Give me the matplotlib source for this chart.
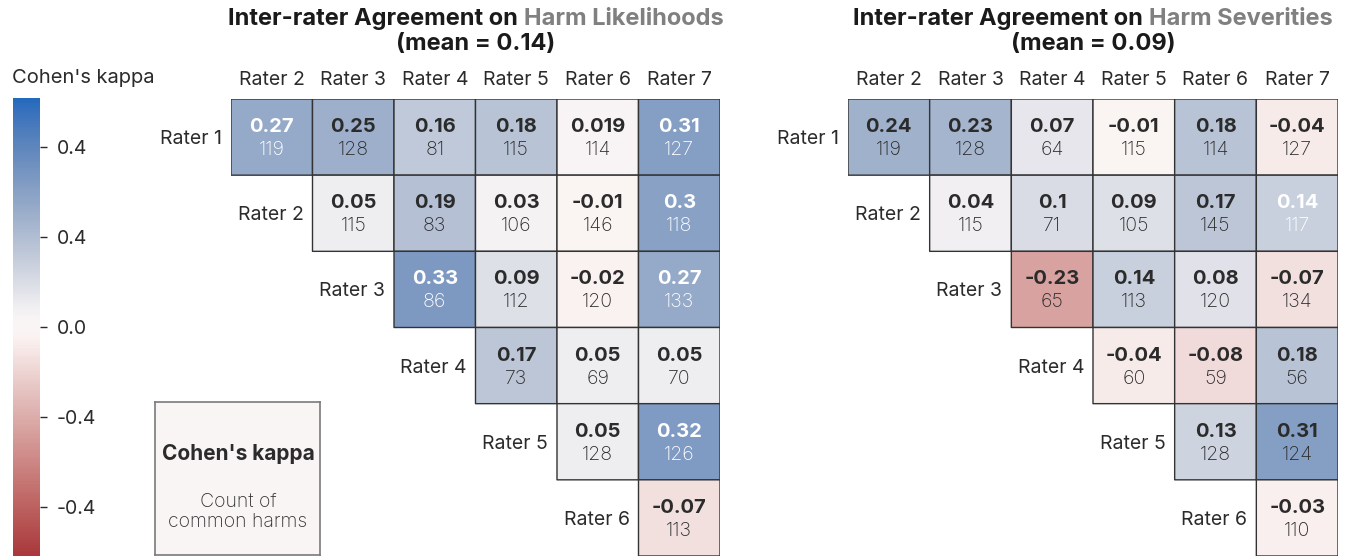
import numpy as np
import matplotlib
matplotlib.use("Agg")
import matplotlib.pyplot as plt
import seaborn as sns
from matplotlib.colors import Normalize
from matplotlib.transforms import ScaledTranslation

plt.rcParams['font.family'] = ['Inter', 'DejaVu Sans']

raters_cols = ["Rater 2", "Rater 3", "Rater 4", "Rater 5", "Rater 6", "Rater 7"]
raters_rows = ["Rater 1", "Rater 2", "Rater 3", "Rater 4", "Rater 5", "Rater 6"]

# Harm likelihoods: kappa (upper triangle, row i vs column j>i)
lik_kappa = [
    [0.27, 0.25, 0.16, 0.18, 0.019, 0.31],
    [0.05, 0.19, 0.03, -0.01, 0.3],
    [0.33, 0.09, -0.02, 0.27],
    [0.17, 0.05, 0.05],
    [0.05, 0.32],
    [-0.07],
]
lik_count = [
    [119, 128, 81, 115, 114, 127],
    [115, 83, 106, 146, 118],
    [86, 112, 120, 133],
    [73, 69, 70],
    [128, 126],
    [113],
]
lik_white = [
    [1, 0, 0, 0, 0, 1],
    [0, 0, 0, 0, 1],
    [1, 0, 0, 1],
    [0, 0, 0],
    [0, 1],
    [0],
]
lik_mean = 0.14

# Harm severities
sev_kappa = [
    [0.24, 0.23, 0.07, -0.01, 0.18, -0.04],
    [0.04, 0.1, 0.09, 0.17, 0.14],
    [-0.23, 0.14, 0.08, -0.07],
    [-0.04, -0.08, 0.18],
    [0.13, 0.31],
    [-0.03],
]
sev_count = [
    [119, 128, 64, 115, 114, 127],
    [115, 71, 105, 145, 117],
    [65, 113, 120, 134],
    [60, 59, 56],
    [128, 124],
    [110],
]
sev_white = [
    [0, 0, 0, 0, 0, 0],
    [0, 0, 0, 0, 1],
    [0, 0, 0, 0],
    [0, 0, 0],
    [0, 0],
    [0],
]
sev_mean = 0.09

cbar_ticks = [-0.4, -0.2, 0.0, 0.2, 0.4]
cbar_ticklabels = ["-0.4", "-0.4", "0.0", "0.4", "0.4"]

VMIN, VMAX = -0.51, 0.51
cmap = sns.color_palette("vlag_r", as_cmap=True)
norm = Normalize(VMIN, VMAX)

W, H = 1366, 556
fig = plt.figure(figsize=(W / 100, H / 100), dpi=100)
DARK = "#2b2b2b"


def fx(px):
    return px / W


def fy(px):
    return 1 - px / H


def to_matrix(tri):
    n = len(tri)
    m = np.full((n, n), np.nan)
    for i, row in enumerate(tri):
        for k, v in enumerate(row):
            m[i, i + k] = v
    return m


def draw_heat(ax, kappa, count, white):
    M = np.ma.masked_invalid(to_matrix(kappa))
    n = M.shape[0]
    ax.pcolor(np.arange(n + 1), np.arange(n + 1), M, cmap=cmap, norm=norm,
              edgecolors="#333333", linewidth=1.0)
    ax.set_xlim(0, n)
    ax.set_ylim(n, 0)
    for sp in ax.spines.values():
        sp.set_visible(False)
    ax.xaxis.tick_top()
    ax.set_xticks(np.arange(n) + 0.5)
    ax.set_xticklabels(raters_cols, fontsize=14, color=DARK)
    ax.tick_params(axis="x", length=0, pad=7)
    ax.set_yticks([])
    up = ax.transData + ScaledTranslation(0, 10 / 100, fig.dpi_scale_trans)
    down = ax.transData + ScaledTranslation(0, -13 / 100, fig.dpi_scale_trans)
    lab = ax.transData + ScaledTranslation(0, -2 / 100, fig.dpi_scale_trans)
    for i in range(n):
        ax.text(i - 0.11, i + 0.5, raters_rows[i], ha="right", va="center",
                fontsize=14, color=DARK, transform=lab)
        for k, v in enumerate(kappa[i]):
            j = i + k
            c = "white" if white[i][k] else DARK
            ax.text(j + 0.5, i + 0.5, f"{v:.2g}", ha="center", va="center",
                    fontsize=14.5, fontweight="bold", color=c, transform=up)
            ax.text(j + 0.5, i + 0.5, f"{count[i][k]}", ha="center", va="center",
                    fontsize=14, fontweight="light", color=c, transform=down)


ax1 = fig.add_axes([fx(231), 0, fx(720) - fx(231), fy(99)])
draw_heat(ax1, lik_kappa, lik_count, lik_white)
ax2 = fig.add_axes([fx(848), 0, fx(1338) - fx(848), fy(99)])
draw_heat(ax2, sev_kappa, sev_count, sev_white)

# colorbar
cax = fig.add_axes([fx(13), 0, fx(40) - fx(13), fy(98)])
sm = matplotlib.cm.ScalarMappable(norm=norm, cmap=cmap)
cb = fig.colorbar(sm, cax=cax)
cb.outline.set_visible(False)
cb.set_ticks(cbar_ticks)
cb.set_ticklabels(cbar_ticklabels)
cax.tick_params(labelsize=14, length=5, width=1, color=DARK, labelcolor=DARK, pad=7)
fig.text(fx(83), fy(78), "Cohen's kappa", ha="center", va="center", fontsize=14.5, color=DARK)

# legend box
lax = fig.add_axes([fx(155), fy(555), fx(320) - fx(155), fy(402) - fy(555)])
lax.set_xticks([])
lax.set_yticks([])
lax.set_facecolor(cmap(norm(0.0)))
for sp in lax.spines.values():
    sp.set_color("#7a7a7a")
    sp.set_linewidth(1.2)
fig.text(fx(238), fy(454), "Cohen's kappa", ha="center", va="center",
         fontsize=15, fontweight="bold", color=DARK)
fig.text(fx(238), fy(512), "Count of\ncommon harms", ha="center", va="center",
         fontsize=14, fontweight="light", color="#333333", linespacing=1.1)

# titles with a grey highlighted part
fig.canvas.draw()
renderer = fig.canvas.get_renderer()


def two_tone_title(cx, y_px, black, grey, second):
    t1 = fig.text(0, fy(y_px), black, fontsize=17, fontweight="bold", color="#1a1a1a",
                  ha="left", va="center")
    t2 = fig.text(0, fy(y_px), grey, fontsize=17, fontweight="bold", color="#808080",
                  ha="left", va="center")
    w1 = t1.get_window_extent(renderer).width
    w2 = t2.get_window_extent(renderer).width
    x0 = cx - (w1 + w2) / 2
    t1.set_x(fx(x0))
    t2.set_x(fx(x0 + w1))
    fig.text(fx(cx), fy(y_px + 25), second, fontsize=17, fontweight="bold",
             color="#1a1a1a", ha="center", va="center")


two_tone_title(476, 19, "Inter-rater Agreement on ", "Harm Likelihoods", f"(mean = {lik_mean:.2f})")
two_tone_title(1093, 19, "Inter-rater Agreement on ", "Harm Severities", f"(mean = {sev_mean:.2f})")

fig.savefig("out.png", dpi=100)
